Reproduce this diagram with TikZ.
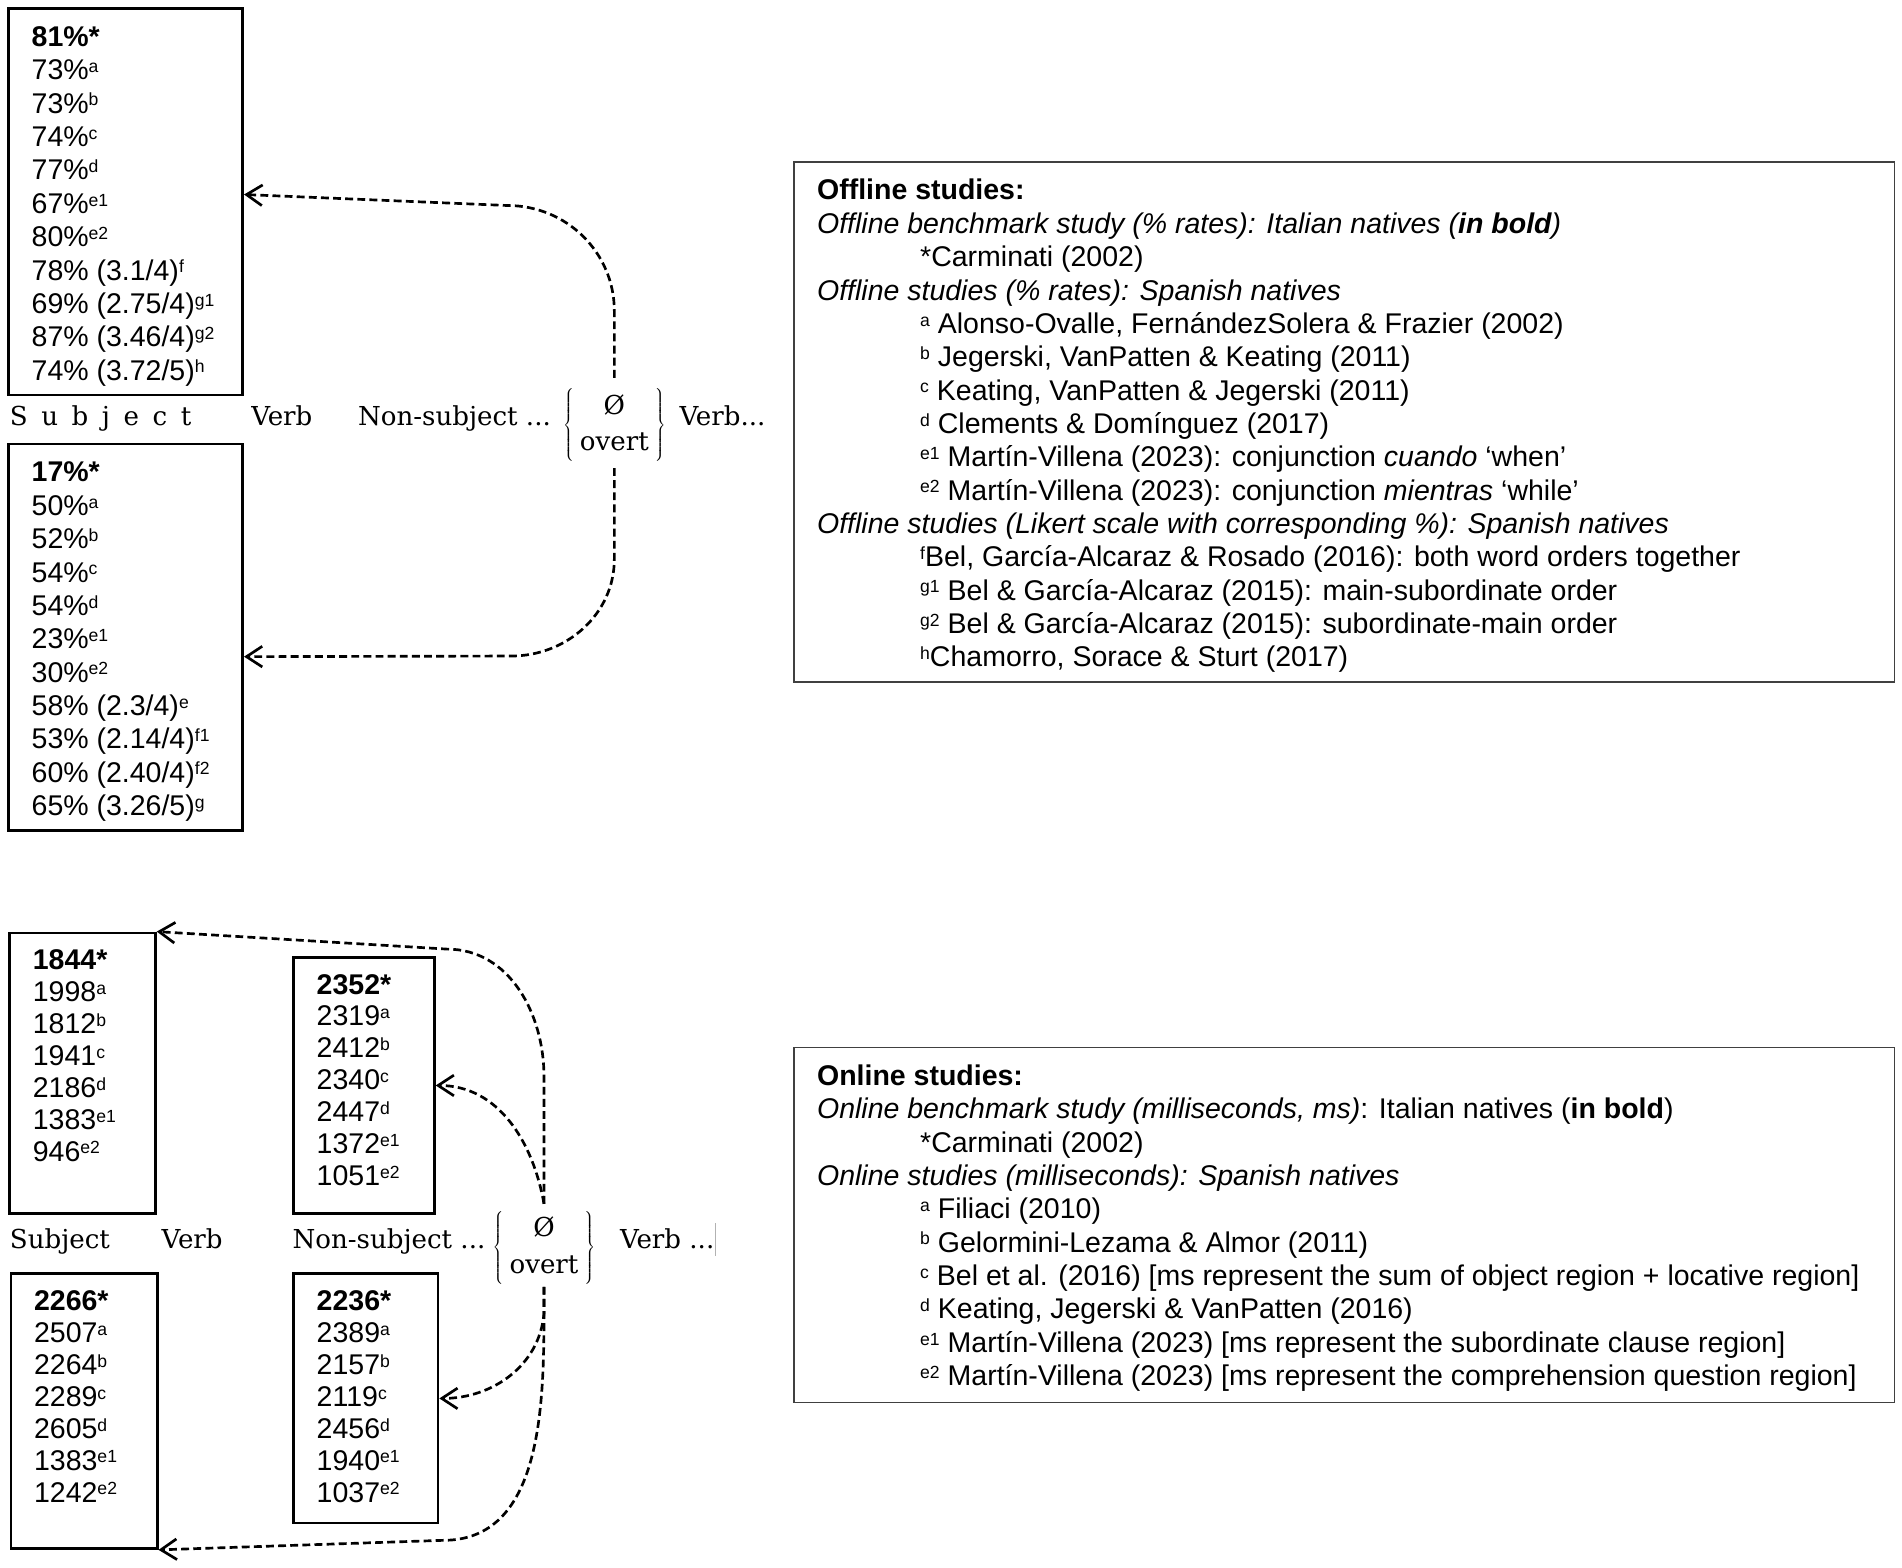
\RequirePackage{fix-cm}
\documentclass[tikz,border=0pt]{standalone}
\usepackage{fontspec}
\newfontfamily\arial{Liberation Sans}
\newfontfamily\rowfont{DejaVu Serif}
\usetikzlibrary{arrows.meta}

\newcommand{\sps}[1]{\raisebox{6pt}{\fontsize{14.5}{14.5}\selectfont #1}}
\newcommand{\lsp}{\hspace{.52em}}
\newcommand{\keyindent}{\hspace*{85pt}}
\newcommand{\vals}[3]{\parbox[t][#2][t]{#1}{\begin{tabular}[t]{@{}l@{}}#3\end{tabular}}}

\begin{document}
\begin{tikzpicture}[x=1pt, y=-1pt,
  valbox/.style={draw, line width=2.2pt, inner xsep=19pt, inner ysep=12pt, anchor=north west,
    font=\arial\fontsize{23.5}{27.5}\selectfont},
  tightbox/.style={valbox, font=\arial\fontsize{23.5}{26.3}\selectfont},
  keybox/.style={valbox, draw=black!75, line width=1.2pt},
  word/.style={anchor=base west, inner sep=0pt, font=\rowfont\fontsize{21.5}{30}\selectfont},
  link/.style={line width=2.2pt, dash pattern=on 6.5pt off 3.5pt, -{Straight Barb[length=13pt,width=17pt]}}]
  \useasboundingbox (0,0) rectangle (1568,1292);

  \node[valbox] (offNull) at (6,6) {\vals{155pt}{294.5pt}{\textbf{81\%*}\\ 73\%\sps{a}\\ 73\%\sps{b}\\ 74\%\sps{c}\\
    77\%\sps{d}\\ 67\%\sps{e1}\\ 80\%\sps{e2}\\ 78\% (3.1/4)\sps{f}\\ 69\% (2.75/4)\sps{g1}\\
    87\% (3.46/4)\sps{g2}\\ 74\% (3.72/5)\sps{h}}};
  \node[valbox] (offOvert) at (6,365) {\vals{155pt}{294.5pt}{\textbf{17\%*}\\ 50\%\sps{a}\\ 52\%\sps{b}\\ 54\%\sps{c}\\
    54\%\sps{d}\\ 23\%\sps{e1}\\ 30\%\sps{e2}\\ 58\% (2.3/4)\sps{e}\\ 53\% (2.14/4)\sps{f1}\\
    60\% (2.40/4)\sps{f2}\\ 65\% (3.26/5)\sps{g}}};

  \node[word] (subjA) at (8,351) {S\lsp u\lsp b\lsp j\lsp e\lsp c\lsp t};
  \node[word] (verbA) at (207,351) {Verb};
  \node[word] (nonsubA) at (295,351) {Non-subject ...};
  \node[word] (choiceA) at (464,356) {$\left\{\begin{array}{c}\mbox{Ø}\\ \mbox{overt}\end{array}\right\}$};
  \node[word] (verbA2) at (560,351) {Verb...};

  \node[keybox] (offKey) at (654,133) {\vals{869pt}{404.5pt}{\textbf{Offline studies:}\\
    \textit{Offline benchmark study (\% rates): Italian natives (\textbf{in bold})}\\
    \keyindent *Carminati (2002)\\
    \textit{Offline studies (\% rates): Spanish natives}\\
    \keyindent \sps{a} Alonso-Ovalle, FernándezSolera \& Frazier (2002)\\
    \keyindent \sps{b} Jegerski, VanPatten \& Keating (2011)\\
    \keyindent \sps{c} Keating, VanPatten \& Jegerski (2011)\\
    \keyindent \sps{d} Clements \& Domínguez (2017)\\
    \keyindent \sps{e1} Martín-Villena (2023): conjunction \textit{cuando} ‘when’\\
    \keyindent \sps{e2} Martín-Villena (2023): conjunction \textit{mientras} ‘while’\\
    \textit{Offline studies (Likert scale with corresponding \%): Spanish natives}\\
    \keyindent \sps{f}Bel, García-Alcaraz \& Rosado (2016): both word orders together\\
    \keyindent \sps{g1} Bel \& García-Alcaraz (2015): main-subordinate order\\
    \keyindent \sps{g2} Bel \& García-Alcaraz (2015): subordinate-main order\\
    \keyindent \sps{h}Chamorro, Sorace \& Sturt (2017)}};

  \draw[link] ([yshift=9pt]choiceA.north) -- ++(0,-55) to[out=90,in=0] ++(-88,-87) -- ([yshift=6pt]offNull.east);
  \draw[link] ([yshift=-5pt]choiceA.south) -- ++(0,75) to[out=-90,in=0] ++(-85,80) -- ([yshift=-16pt]offOvert.east);

  \node[tightbox] (onNull) at (7,768) {\vals{82pt}{207.5pt}{\textbf{1844*}\\ 1998\sps{a}\\ 1812\sps{b}\\ 1941\sps{c}\\
    2186\sps{d}\\ 1383\sps{e1}\\ 946\sps{e2}}};
  \node[tightbox] (onNonNull) at (241,788) {\vals{78pt}{187.5pt}{\textbf{2352*}\\ 2319\sps{a}\\ 2412\sps{b}\\ 2340\sps{c}\\
    2447\sps{d}\\ 1372\sps{e1}\\ 1051\sps{e2}}};
  \node[tightbox] (onOvert) at (8,1049) {\vals{82.5pt}{202.5pt}{\textbf{2266*}\\ 2507\sps{a}\\ 2264\sps{b}\\ 2289\sps{c}\\
    2605\sps{d}\\ 1383\sps{e1}\\ 1242\sps{e2}}};
  \node[tightbox] (onNonOvert) at (241,1049) {\vals{81pt}{181.5pt}{\textbf{2236*}\\ 2389\sps{a}\\ 2157\sps{b}\\ 2119\sps{c}\\
    2456\sps{d}\\ 1940\sps{e1}\\ 1037\sps{e2}}};

  \node[word] (subjB) at (8,1029) {Subject};
  \node[word] (verbB) at (133,1029) {Verb};
  \node[word] (nonsubB) at (241,1029) {Non-subject ...};
  \node[word] (choiceB) at (406,1034) {$\left\{\begin{array}{c}\mbox{Ø}\\ \mbox{overt}\end{array}\right\}$};
  \node[word] (verbB2) at (511,1029) {Verb ...};
  \draw[gray!60, line width=0.8pt] ([xshift=1pt,yshift=4pt]verbB2.north east) -- ([xshift=1pt,yshift=-6pt]verbB2.south east);

  \node[keybox] (onKey) at (654,863) {\vals{869pt}{268.5pt}{\textbf{Online studies:}\\
    \textit{Online benchmark study (milliseconds, ms)}: Italian natives (\textbf{in bold})\\
    \keyindent *Carminati (2002)\\
    \textit{Online studies (milliseconds): Spanish natives}\\
    \keyindent \sps{a} Filiaci (2010)\\
    \keyindent \sps{b} Gelormini-Lezama \& Almor (2011)\\
    \keyindent \sps{c} Bel et al. (2016) [ms represent the sum of object region + locative region]\\
    \keyindent \sps{d} Keating, Jegerski \& VanPatten (2016)\\
    \keyindent \sps{e1} Martín-Villena (2023) [ms represent the subordinate clause region]\\
    \keyindent \sps{e2} Martín-Villena (2023) [ms represent the comprehension question region]}};

  \draw[link] ([yshift=6pt]choiceB.north) -- ++(0,-105) to[out=90,in=0] ++(-80,-105) -- (onNull.north east);
  \draw[link] ([yshift=6pt]choiceB.north) to[out=100,in=0] (onNonNull.east);
  \draw[link] ([yshift=-2pt]choiceB.south) -- ++(0,22) to[out=-95,in=0] (onNonOvert.east);
  \draw[link] ([yshift=-2pt]choiceB.south) -- ++(0,20) to[out=-90,in=0] ++(-83,189) -- (onOvert.south east);
\end{tikzpicture}
\end{document}
